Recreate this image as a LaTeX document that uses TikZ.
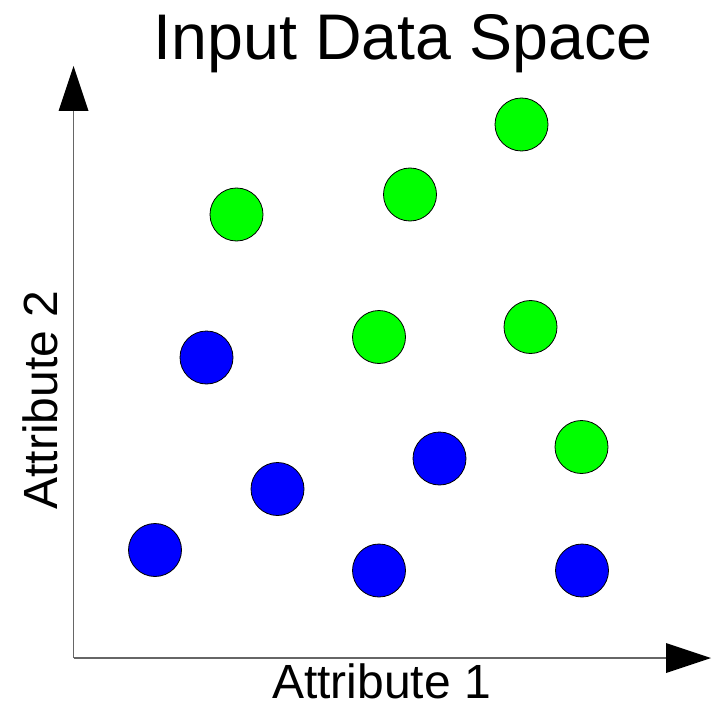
\documentclass[tikz,border=0pt]{standalone}
\usepackage{fontspec}
\setmainfont{Liberation Sans}
\usetikzlibrary{arrows.meta}
\definecolor{ptgreen}{RGB}{0,255,0}
\definecolor{ptblue}{RGB}{0,0,255}
\tikzset{
  axisline/.style={draw=black!60, line width=1.3pt},
  axishead/.style={fill=black, draw=none},
  dot/.style={circle, draw=black, line width=0.8pt, minimum size=53pt, inner sep=0pt},
  gdot/.style={dot, fill=ptgreen},
  bdot/.style={dot, fill=ptblue},
  axislabel/.style={font=\fontsize{48}{55}\selectfont, inner sep=0pt, text depth=0pt},
}
\begin{document}
\begin{tikzpicture}[x=1pt, y=-1pt]
  \useasboundingbox (0,0) rectangle (723,706);
  % axes
  \coordinate (origin) at (73.5,658);
  \coordinate (ytop) at (73.5,111);
  \coordinate (xend) at (666,658);
  \draw[axisline] (origin) -- (ytop);
  \draw[axisline] (origin) -- (xend);
  \fill[axishead] (73.5,66) -- (58.5,111) -- (88.5,111) -- cycle;
  \fill[axishead] (711,658) -- (666,643) -- (666,673) -- cycle;
  % labels
  \node[anchor=base, font=\fontsize{64.5}{70}\selectfont, inner sep=0pt] (title) at (403,60) {Input Data Space};
  \node[anchor=base, axislabel] (xlabel) at (381.5,698) {Attribute 1};
  \node[anchor=base, rotate=90, axislabel] (ylabel) at (57,400) {Attribute 2};
  % green class
  \node[gdot] (g1) at (236.5,214.5) {};
  \node[gdot] (g2) at (410,194.5) {};
  \node[gdot] (g3) at (521.5,124.5) {};
  \node[gdot] (g4) at (379,337) {};
  \node[gdot] (g5) at (530.5,327) {};
  \node[gdot] (g6) at (581.5,447) {};
  % blue class
  \node[bdot] (b1) at (206.5,357.5) {};
  \node[bdot] (b2) at (277.5,489) {};
  \node[bdot] (b3) at (439.5,458.5) {};
  \node[bdot] (b4) at (155,550) {};
  \node[bdot] (b5) at (379,570.5) {};
  \node[bdot] (b6) at (582,570.5) {};
\end{tikzpicture}
\end{document}
